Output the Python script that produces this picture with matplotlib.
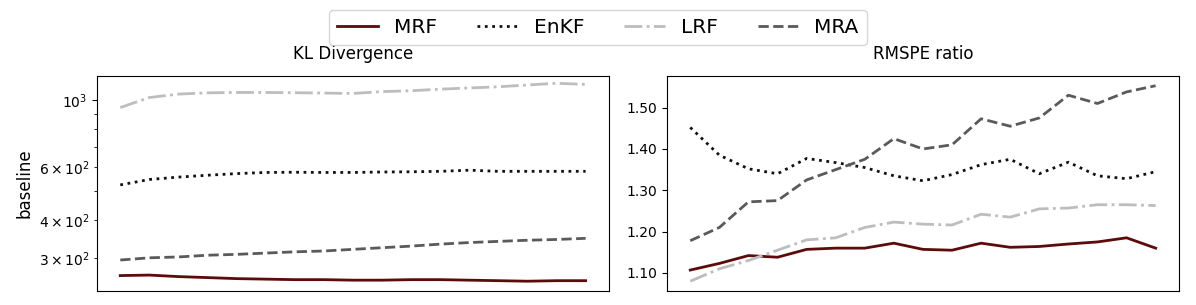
import numpy as np
import matplotlib
matplotlib.use("Agg")
from matplotlib import pyplot as plt
from matplotlib.ticker import FormatStrFormatter

# 17 time steps, no x labels on the chart
steps = np.arange(1, 18)
methods = ["MRF", "EnKF", "LRF", "MRA"]

# KL divergence (log scale)
kl_mrf = [262, 263, 260, 258, 256, 255, 254, 254, 253, 253, 254, 254, 253, 252, 251, 252, 252]
kl_enkf = [523, 545, 555, 563, 570, 575, 576, 575, 575, 577, 578, 580, 585, 580, 580, 580, 580]
kl_lrf = [943, 1018, 1045, 1055, 1058, 1058, 1056, 1053, 1050, 1065, 1072, 1085, 1095, 1105, 1120, 1135, 1125]
kl_mra = [295, 300, 302, 306, 308, 311, 314, 316, 320, 324, 328, 333, 337, 340, 343, 345, 348]

# RMSPE ratio
rm_mrf = [1.107, 1.123, 1.142, 1.138, 1.157, 1.160, 1.160, 1.172, 1.157, 1.155, 1.172, 1.162, 1.164, 1.170, 1.175, 1.185, 1.160]
rm_enkf = [1.452, 1.385, 1.352, 1.340, 1.377, 1.367, 1.355, 1.335, 1.323, 1.338, 1.362, 1.375, 1.340, 1.368, 1.335, 1.328, 1.345]
rm_lrf = [1.080, 1.110, 1.130, 1.155, 1.180, 1.185, 1.210, 1.223, 1.218, 1.216, 1.242, 1.235, 1.255, 1.257, 1.265, 1.265, 1.263]
rm_mra = [1.178, 1.210, 1.272, 1.275, 1.325, 1.350, 1.375, 1.425, 1.400, 1.410, 1.473, 1.455, 1.475, 1.530, 1.510, 1.538, 1.553]

styles = {
    "MRF": dict(color="#5c0a0a", linestyle="-"),
    "EnKF": dict(color="#111111", linestyle=":"),
    "LRF": dict(color="#bdbdbd", linestyle="-."),
    "MRA": dict(color="#5a5a5a", linestyle="--"),
}

fig = plt.figure(figsize=(11.96, 3.05), dpi=100)
ax1 = fig.add_axes([0.0811, 0.046, 0.428, 0.705])
ax2 = fig.add_axes([0.5577, 0.046, 0.428, 0.705])

kl = {"MRF": kl_mrf, "EnKF": kl_enkf, "LRF": kl_lrf, "MRA": kl_mra}
rm = {"MRF": rm_mrf, "EnKF": rm_enkf, "LRF": rm_lrf, "MRA": rm_mra}

for m in methods:
    ax1.plot(steps, kl[m], linewidth=2, label=m, **styles[m])
    ax2.plot(steps, rm[m], linewidth=2, **styles[m])

ax1.set_yscale("log")
ax1.set_ylim(233, 1200)
ax1.set_title("KL Divergence", fontsize=12, pad=12)
ax1.set_ylabel("baseline", fontsize=12)
ax2.set_title("RMSPE ratio", fontsize=12, pad=12)
ax2.yaxis.set_major_formatter(FormatStrFormatter("%.2f"))

for ax in (ax1, ax2):
    ax.set_xticks([])

handles, labels = ax1.get_legend_handles_labels()
fig.legend(handles, labels, loc="upper center", ncol=4, fontsize=14.5,
           bbox_to_anchor=(0.5, 1.0), frameon=True)

fig.savefig("out.png", dpi=100)
